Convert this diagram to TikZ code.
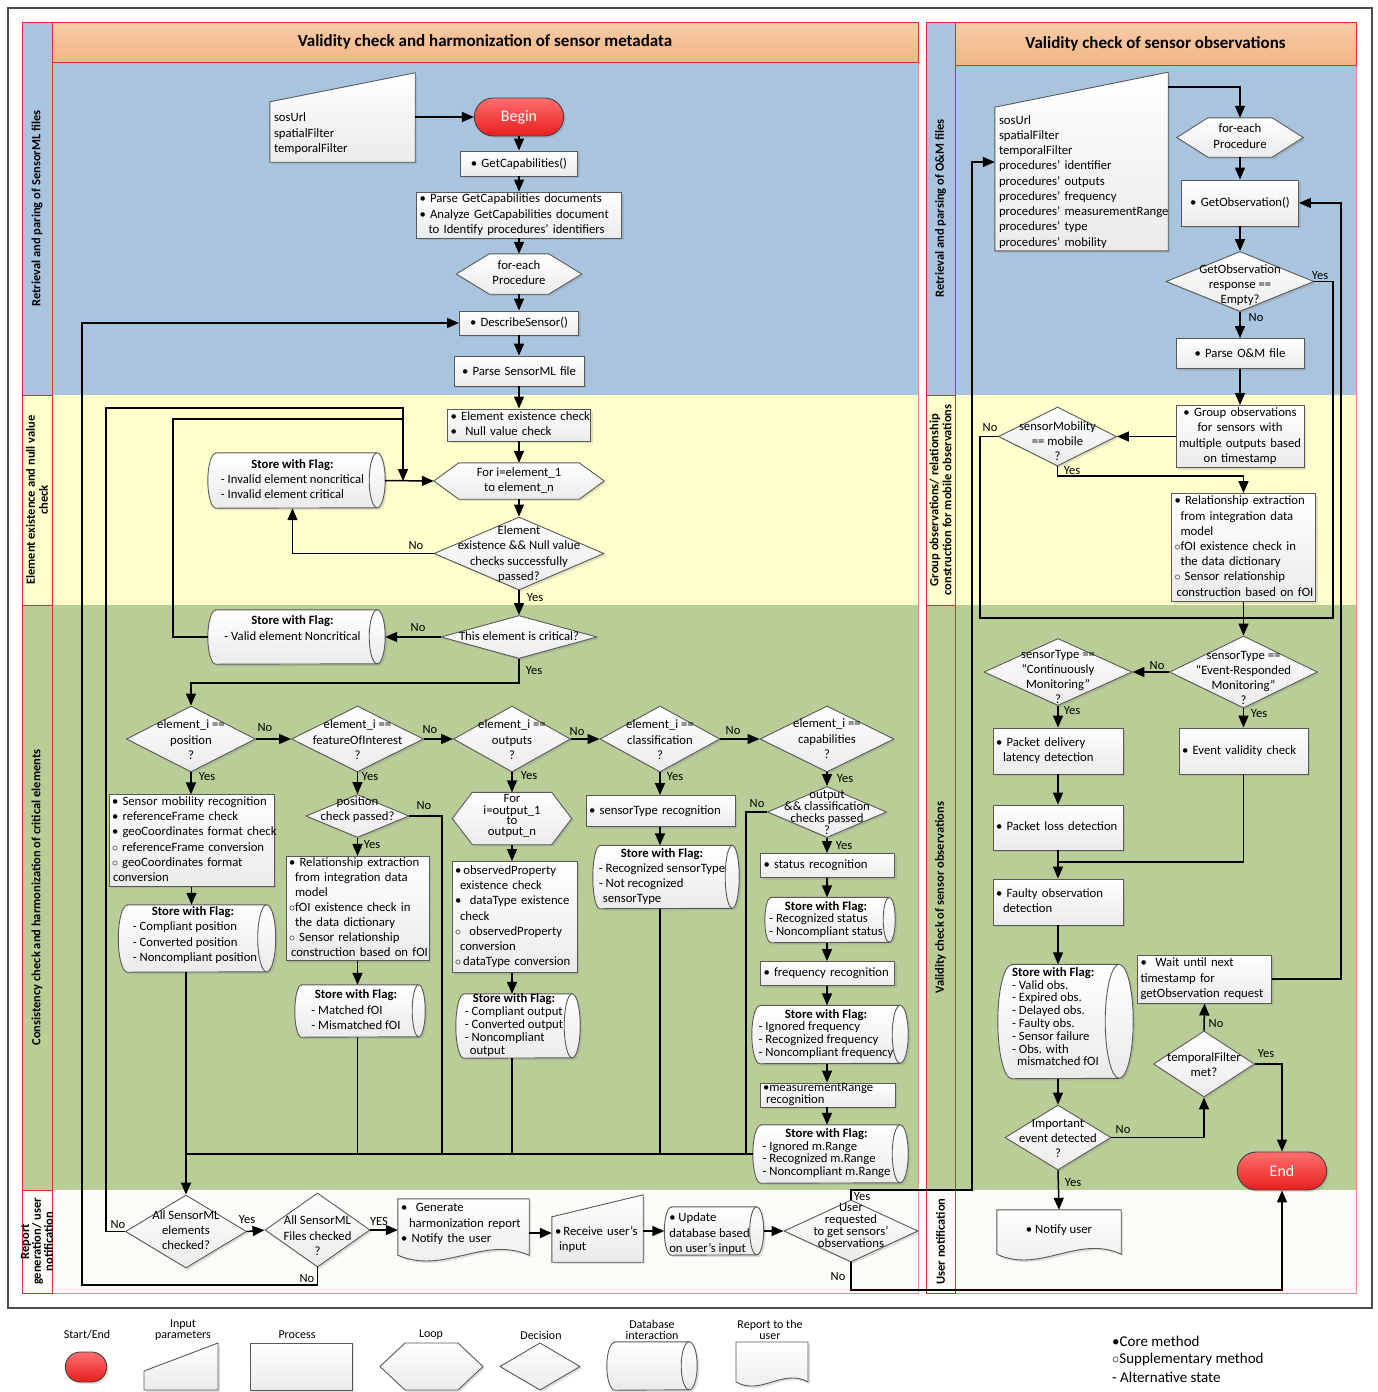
\documentclass[tikz,border=0pt]{standalone}
\usepackage{fontspec}
\setmainfont{Carlito}
\usetikzlibrary{arrows.meta,calc,shapes.geometric,shapes.misc,shadows}

\pgfdeclarelayer{bg}
\pgfsetlayers{bg,main}

\definecolor{laneblue}{RGB}{168,196,222}
\definecolor{laneyellow}{RGB}{255,255,204}
\definecolor{lanegreen}{RGB}{185,205,150}
\definecolor{lanewhite}{RGB}{253,251,247}
\definecolor{headtop}{RGB}{247,204,168}
\definecolor{headbot}{RGB}{241,181,132}
\definecolor{poolred}{RGB}{218,45,45}
\definecolor{termtop}{RGB}{255,110,110}
\definecolor{termbot}{RGB}{232,30,30}

% rows that never break
\newcommand{\rows}[1]{\begin{tabular}{@{}l@{}}#1\end{tabular}}
\newcommand{\crows}[1]{\begin{tabular}{@{}c@{}}#1\end{tabular}}
% text that does not size its shape
\newcommand{\ztext}[3][0pt]{\raisebox{\dimexpr#1-3pt\relax}[0pt][0pt]{\makebox[0pt]{\begin{tabular}{#2}#3\end{tabular}}}}
\newcommand{\dtext}[2][0pt]{\ztext[#1]{@{}c@{}}{#2}}
\newcommand{\flagtext}[2][0pt]{\ztext[#1]{@{}l@{\hspace{8pt}}}{\multicolumn{1}{@{}c@{\hspace{8pt}}}{\textbf{Store with Flag:}}\\#2}}
% outlines round plain nodes
\newcommand{\hexpath}[2]{\path[shapeline] ([xshift=#2]#1.north west) -- ([xshift=-#2]#1.north east) -- (#1.east) -- ([xshift=-#2]#1.south east) -- ([xshift=#2]#1.south west) -- (#1.west) -- cycle;}
\newcommand{\inpath}[3]{\path[shapeline] (#1.south west) -- ([yshift=#2]#1.north west) -- ([yshift=#3]#1.north east) -- (#1.south east) -- cycle;}
\newcommand{\docpath}[4]{\path[shapeline] (#1.north west) -- (#1.north east) -- ([yshift=#2]#1.south east) .. controls ([xshift=-#3,yshift=#2+#4]#1.south east) and ([xshift=#3,yshift=#2-#4]#1.south west) .. ([yshift=#2]#1.south west) -- cycle;}
\newcommand{\cylpath}[3]{\path[shapeline] ([xshift=#2]#1.north west) -- ([xshift=-#2]#1.north east) arc[start angle=90, end angle=-90, x radius=#2, y radius=#3] -- ([xshift=#2]#1.south west) arc[start angle=270, end angle=90, x radius=#2, y radius=#3] -- cycle;
  \draw[draw=black!65, line width=.9pt] ([xshift=-#2]#1.north east) arc[start angle=90, end angle=270, x radius=#2, y radius=#3];}

\begin{document}
\begin{tikzpicture}[x=1pt, y=-1pt, >={Triangle[length=12pt,width=10pt]},
  font=\fontsize{12.7}{15.2}\selectfont,
  softshadow/.style={drop shadow={opacity=.25, shadow xshift=2pt, shadow yshift=-2pt}},
  flow/.style={->, line width=1.5pt},
  wire/.style={line width=1.5pt},
  proc/.style={rectangle, draw=black!65, line width=.9pt, top color=white, bottom color=black!8, inner xsep=3pt, inner ysep=0pt, align=left, softshadow},
  dec/.style={diamond, draw=black!65, line width=.9pt, top color=white, bottom color=black!8, inner sep=0pt, softshadow},
  store/.style 2 args={rectangle, inner sep=0pt, minimum width=#1, minimum height=#2},
  term/.style={rounded rectangle, draw=black!75, line width=.9pt, top color=termtop, bottom color=termbot, text=white, font=\fontsize{16}{18}\selectfont, minimum width=96pt, minimum height=38pt, softshadow},
  holder/.style={rectangle, inner sep=0pt, align=left},
  shapeline/.style={draw=black!65, line width=.9pt, top color=white, bottom color=black!8, softshadow},
  header/.style={rectangle, draw=poolred, line width=.9pt, top color=headtop, bottom color=headbot, font=\bfseries\fontsize{17}{19}\selectfont},
  lanelbl/.style={rotate=90, align=center, font=\bfseries\fontsize{12.5}{13}\selectfont},
  lbl/.style={inner sep=0pt, font=\fontsize{12.5}{14}\selectfont},
  legtxt/.style={inner sep=0pt, align=center, font=\fontsize{12}{11}\selectfont},
  legkey/.style={inner sep=0pt, anchor=west, font=\fontsize{15}{17}\selectfont}]
\useasboundingbox (0,0) rectangle (1378,1392);

% pools and lanes
\begin{pgfonlayer}{bg}
  \draw[line width=2.5pt, black!70] (8,8) rectangle (1372,1308);
  \fill[laneblue] (22,22) rectangle (918,395);
  \fill[laneyellow] (22,395) rectangle (918,605);
  \fill[lanegreen] (22,605) rectangle (918,1190);
  \fill[lanewhite] (22,1190) rectangle (918,1293);
  \fill[laneblue] (926,22) rectangle (1356,395);
  \fill[laneyellow] (926,395) rectangle (1356,605);
  \fill[lanegreen] (926,605) rectangle (1356,1190);
  \fill[lanewhite] (926,1190) rectangle (1356,1293);
  \draw[poolred!55, line width=.7pt] (22,22) rectangle (918,1293) (926,22) rectangle (1356,1293);
  \draw[poolred, line width=.9pt] (22,22) rectangle (52,395) (22,395) rectangle (52,605) (22,605) rectangle (52,1190) (22,1190) rectangle (52,1293);
  \draw[poolred, line width=.9pt] (926,22) rectangle (955,395) (926,395) rectangle (955,605) (926,605) rectangle (955,1190) (926,1190) rectangle (955,1293);
\end{pgfonlayer}
\node (head1) at (485,42) [header, minimum width=866pt, minimum height=40pt] {Validity check and harmonization of sensor metadata};
\node (head2) at (1155.5,43.5) [header, minimum width=401pt, minimum height=43pt] {Validity check of sensor observations};
\node (lane1) at (37,208.5) [lanelbl] {Retrieval and paring of SensorML files};
\node (lane2) at (37,500) [lanelbl] {Element existence and null value\\check};
\node (lane3) at (37,897.5) [lanelbl] {Consistency check and harmonization of critical elements};
\node (lane4) at (37,1241.5) [lanelbl, font=\bfseries\fontsize{12.5}{10}\selectfont] {Report\\generation/ user\\notification};
\node (lane5) at (940.5,208.5) [lanelbl] {Retrieval and parsing of O\&M files};
\node (lane6) at (940.5,500) [lanelbl] {Group observations/ relationship\\construction for mobile observations};
\node (lane7) at (940.5,897.5) [lanelbl] {Validity check of sensor observations};
\node (lane8) at (940.5,1241.5) [lanelbl] {User notification};

% sensor metadata: retrieval
\node (in1) at (342.5,134) [holder, inner xsep=4pt, text width=137pt, minimum height=56pt] {\rows{sosUrl\\spatialFilter\\temporalFilter}};
\node (begin) at (519,117) [term] {Begin};
\node (getcap) at (519,163.5) [proc, text width=111pt, minimum height=25pt, align=center] {\textbullet\ GetCapabilities()};
\node (parse) at (519,215) [proc, text width=199pt, minimum height=46pt] {\rows{\textbullet\ Parse GetCapabilities documents\\\textbullet\ Analyze GetCapabilities document\\\hspace*{9pt}to Identify procedures’ identifiers}};
\node (each1) at (519,274) [holder, minimum width=125pt, minimum height=40pt] {\dtext{for-each\\Procedure}};
\node (descr) at (519,323) [proc, text width=113pt, minimum height=24pt, align=center] {\textbullet\ DescribeSensor()};
\node (psml) at (519,371) [proc, text width=124pt, minimum height=30pt, align=center] {\textbullet\ Parse SensorML file};

% existence and null value
\node (exist) at (519,425) [proc, text width=137pt, minimum height=32pt] {\rows{\textbullet\ Element existence check\\\textbullet\ \ Null value check}};
\node (forel) at (519,481) [holder, minimum width=170pt, minimum height=36pt] {\dtext{For i=element\_1\\to element\_n}};
\node (exdec) at (519,553.5) [dec, minimum width=170pt, minimum height=73pt] {\dtext[-1pt]{Element\\existence \&\& Null value\\checks successfully\\passed?}};
\node (flag1) at (296.5,480.5) [store={177pt}{55pt}] {\flagtext{- Invalid element noncritical\\- Invalid element critical}};
\node (crit) at (519,637) [dec, minimum width=156pt, minimum height=43pt] {\dtext{This element is critical?}};
\node (flag2) at (296.5,637) [store={177pt}{54pt}] {\flagtext{- Valid element Noncritical\\\mbox{}}};

% critical elements
\node (dpos) at (191,739) [dec, minimum width=129pt, minimum height=66pt] {\dtext[-2pt]{element\_i ==\\position\\?}};
\node (dfoi) at (357.5,739) [dec, minimum width=132pt, minimum height=66pt] {\dtext[-2pt]{element\_i ==\\featureOfInterest\\?}};
\node (dout) at (512,739) [dec, minimum width=117pt, minimum height=66pt] {\dtext[-2pt]{element\_i ==\\outputs\\?}};
\node (dcls) at (660,739) [dec, minimum width=120pt, minimum height=66pt] {\dtext[-2pt]{element\_i ==\\classification\\?}};
\node (dcap) at (827,739) [dec, minimum width=134pt, minimum height=66pt] {\dtext[-1pt]{element\_i ==\\capabilities\\?}};

\node (pproc) at (191.5,840.5) [proc, text width=159pt, minimum height=91pt] {\rows{\textbullet\ Sensor mobility recognition\\\textbullet\ referenceFrame check\\\textbullet\ geoCoordinates format check\\$\circ$\ referenceFrame conversion\\$\circ$\ geoCoordinates format\\\hspace*{1pt}conversion}};
\node (pstore) at (197,938.5) [store={157pt}{67pt}] {\flagtext[3pt]{\hspace*{4pt}- Compliant position\\\hspace*{4pt}- Converted position\\\hspace*{4pt}- Noncompliant position}};

\node (fdec) at (357.5,816) [dec, minimum width=103pt, minimum height=43pt] {\dtext[6pt]{position\\check passed?}};
\node (fproc) at (357.5,908.5) [proc, text width=137pt, minimum height=103pt, font=\fontsize{12.7}{14.9}\selectfont] {\rows{\textbullet\ Relationship extraction\\\hspace*{6pt}from integration data\\\hspace*{6pt}model\\$\circ$fOI existence check in\\\hspace*{6pt}the data dictionary\\$\circ$\ Sensor relationship\\\hspace*{2pt}construction based on fOI}};
\node (fstore) at (360,1011) [store={130pt}{52pt}] {\flagtext{- Matched fOI\\- Mismatched fOI}};

\node (oloop) at (512,818.5) [holder, minimum width=119pt, minimum height=52pt, font=\fontsize{12.7}{9.5}\selectfont] {\dtext[2pt]{For\\i=output\_1\\to\\output\_n}};
\node (oproc) at (514.5,917) [proc, text width=119pt, minimum height=111pt] {\rows{\textbullet\,observedProperty\\\hspace*{5pt}existence check\\\textbullet\ \ dataType existence\\\hspace*{5pt}check\\$\circ$\ \ observedProperty\\\hspace*{5pt}conversion\\$\circ$\,dataType conversion}};
\node (ostore) at (518,1026) [store={124pt}{64pt}, font=\fontsize{12.7}{12.8}\selectfont] {\flagtext{- Compliant output\\- Converted output\\- Noncompliant\\\hspace*{5pt}output}};

\node (cproc) at (660.5,811) [proc, text width=143pt, minimum height=31pt] {\rows{\textbullet\ sensorType recognition}};
\node (cstore) at (666,877) [store={146pt}{63pt}] {\flagtext{- Recognized sensorType\\- Not recognized\\\hspace*{4pt}sensorType}};

\node (capdec) at (827,812) [dec, minimum width=119pt, minimum height=51pt, font=\fontsize{12.7}{11.3}\selectfont] {\dtext[-2pt]{output\\\&\& classification\\checks passed\\?}};
\node (stproc) at (827.5,865.5) [proc, text width=128pt, minimum height=24pt] {\rows{\textbullet\ status recognition}};
\node (ststore) at (830,920) [store={130pt}{45pt}, font=\fontsize{12.7}{12.5}\selectfont] {\flagtext{- Recognized status\\- Noncompliant status}};
\node (frproc) at (827.5,973.5) [proc, text width=128pt, minimum height=24pt] {\rows{\textbullet\ frequency recognition}};
\node (frstore) at (830,1034.5) [store={156pt}{58pt}, font=\fontsize{12.7}{12.7}\selectfont] {\flagtext{- Ignored frequency\\- Recognized frequency\\- Noncompliant frequency}};
\node (mrproc) at (827.5,1095) [proc, text width=129pt, minimum height=24pt, font=\fontsize{12.7}{10.5}\selectfont] {\rows{\textbullet measurementRange\\\hspace*{3pt}recognition}};
\node (mrstore) at (830.5,1154) [store={155pt}{58pt}, font=\fontsize{12.7}{12.7}\selectfont] {\flagtext{- Ignored m.Range\\- Recognized m.Range\\- Noncompliant m.Range}};

% report and user notification
\node (allel) at (186,1231.5) [dec, minimum width=121pt, minimum height=73pt] {\dtext{All SensorML\\elements\\checked?}};
\node (allfi) at (317.5,1230) [dec, minimum width=105pt, minimum height=74pt] {\dtext[-7pt]{All SensorML\\Files checked\\?}};
\node (rep) at (463.5,1224) [holder, inner xsep=3pt, text width=125pt, minimum height=50pt] {\rows{\textbullet\ \ Generate\\\hspace*{8pt}harmonization report\\\textbullet\ Notify the user}};
\node (recv) at (597.5,1240) [holder, inner xsep=3pt, text width=85pt, minimum height=44pt] {\rows{\textbullet\,Receive user’s\\\hspace*{4pt}input}};
\node (upd) at (714,1231) [store={99pt}{48pt}] {\ztext[-3pt]{@{}l@{\hspace{9pt}}}{\textbullet\ Update\\database based\\on user’s input}};
\node (ureq) at (851,1231) [dec, minimum width=134pt, minimum height=62pt, font=\fontsize{12.7}{11.3}\selectfont] {\dtext[4pt]{User\\requested\\to get sensors’\\observations}};

% sensor observations
\node (in2) at (1081.5,182) [holder, inner xsep=4pt, text width=165pt, minimum height=134pt, font=\fontsize{12.7}{15.25}\selectfont] {\rows{sosUrl\\spatialFilter\\temporalFilter\\procedures’ identifier\\procedures’ outputs\\procedures’ frequency\\procedures’ measurementRange\\procedures’ type\\procedures’ mobility}};
\node (each2) at (1240,137.5) [holder, minimum width=126pt, minimum height=39pt] {\dtext{for-each\\Procedure}};
\node (gobs) at (1240,203) [proc, text width=111pt, minimum height=46pt, align=center] {\textbullet\ GetObservation()};
\node (odec) at (1240,281.5) [dec, minimum width=148pt, minimum height=60pt] {\dtext[-4pt]{GetObservation\\response ==\\Empty?}};
\node (pom) at (1240,353.5) [proc, text width=122pt, minimum height=30pt, align=center] {\textbullet\ Parse O\&M file};
\node (grp) at (1240,436.5) [proc, text width=122pt, minimum height=62pt, align=center] {\crows{\textbullet\ Group observations\\for sensors with\\multiple outputs based\\on timestamp}};
\node (mdec) at (1057.5,436.5) [dec, minimum width=118pt, minimum height=59pt] {\dtext[-6pt]{sensorMobility\\== mobile\\?}};
\node (rel) at (1243.5,547.5) [proc, text width=138pt, minimum height=108pt] {\rows{\textbullet\ Relationship extraction\\\hspace*{6pt}from integration data\\\hspace*{6pt}model\\$\circ$fOI existence check in\\\hspace*{6pt}the data dictionary\\$\circ$\ Sensor relationship\\\hspace*{2pt}construction based on fOI}};
\node (ertype) at (1243.5,672) [dec, minimum width=148pt, minimum height=72pt] {\dtext[-7pt]{sensorType ==\\“Event-Responded\\Monitoring”\\?}};
\node (cmtype) at (1058,672) [dec, minimum width=148pt, minimum height=67pt] {\dtext[-6pt]{sensorType ==\\“Continuously\\Monitoring”\\?}};
\node (lat) at (1058,751) [proc, text width=124pt, minimum height=46pt] {\rows{\textbullet\ Packet delivery\\\hspace*{7pt}latency detection}};
\node (evc) at (1243.5,751) [proc, text width=123pt, minimum height=46pt] {\rows{\textbullet\ Event validity check}};
\node (loss) at (1058,827.5) [proc, text width=124pt, minimum height=45pt] {\rows{\textbullet\ Packet loss detection}};
\node (fault) at (1058,902) [proc, text width=124pt, minimum height=46pt] {\rows{\textbullet\ Faulty observation\\\hspace*{7pt}detection}};
\node (ostore2) at (1065.5,1021.5) [store={135pt}{114pt}, font=\fontsize{12.7}{12.8}\selectfont] {\ztext[3pt]{@{}l@{\hspace{20pt}}}{\textbf{Store with Flag:}\\- Valid obs.\\- Expired obs.\\- Delayed obs.\\- Faulty obs.\\- Sensor failure\\- Obs. with\\\hspace*{5pt}mismatched fOI}};
\node (imp) at (1058,1137.5) [dec, minimum width=106pt, minimum height=65pt] {\dtext[-2pt]{Important\\event detected\\?}};
\node (tf) at (1204,1064) [dec, minimum width=101pt, minimum height=66pt] {\dtext[-2pt]{temporalFilter\\met?}};
\node (wait) at (1204.5,979) [proc, text width=128pt, minimum height=48pt] {\rows{\textbullet\ \ Wait until next\\timestamp for\\getObservation request}};
\node (endn) at (1282,1171) [term] {End};
\node (notify) at (1059,1230) [holder, minimum width=124pt, minimum height=40pt, align=center] {\textbullet\ Notify user};

% legend
\node (lgse) at (87,1335) [legtxt] {Start/End};
\node (lgin) at (183,1330) [legtxt] {Input\\parameters};
\node (lgpr) at (297,1335) [legtxt] {Process};
\node (lglp) at (431,1335) [legtxt] {Loop};
\node (lgdc) at (541,1335) [legtxt] {Decision};
\node (lgdb) at (652,1330) [legtxt] {Database\\interaction};
\node (lgrp) at (770,1330) [legtxt] {Report to the\\user};
\node (lgterm) at (86,1367) [term, minimum width=48pt, minimum height=30pt] {};
\node (lgcyl) at (652,1366) [store={90pt}{48pt}] {};
\node (lgcore) at (1112,1341) [legkey] {\textbullet Core method};
\node (lgsupp) at (1112,1359) [legkey] {$\circ$Supplementary method};
\node (lgalt) at (1112,1377) [legkey] {- Alternative state};

% outlines of input, loop, store and report shapes
\begin{pgfonlayer}{bg}
  \inpath{in1}{4pt}{33pt}
  \inpath{in2}{6pt}{41pt}
  \inpath{recv}{1pt}{23pt}
  \hexpath{each1}{33pt}
  \hexpath{forel}{25pt}
  \hexpath{oloop}{20pt}
  \hexpath{each2}{31pt}
  \docpath{rep}{-6pt}{46pt}{20pt}
  \docpath{notify}{-4pt}{43pt}{20pt}
  \cylpath{flag1}{8pt}{27.5pt}
  \cylpath{flag2}{8pt}{27pt}
  \cylpath{pstore}{9pt}{33.5pt}
  \cylpath{fstore}{6.5pt}{26pt}
  \cylpath{ostore}{8pt}{32pt}
  \cylpath{cstore}{7pt}{31.5pt}
  \cylpath{ststore}{6pt}{22.5pt}
  \cylpath{frstore}{8pt}{29pt}
  \cylpath{mrstore}{8pt}{29pt}
  \cylpath{upd}{7pt}{24pt}
  \cylpath{ostore2}{14pt}{57pt}
  \cylpath{lgcyl}{8pt}{24pt}
  \path[shapeline] (144,1390) -- (144,1371) -- (218,1343) -- (218,1390) -- cycle;
  \path[shapeline] (250,1343) rectangle (352,1390);
  \path[shapeline] (405,1343) -- (458,1343) -- (483,1366.5) -- (458,1390) -- (405,1390) -- (380,1366.5) -- cycle;
  \path[shapeline] (540,1343) -- (580,1366.5) -- (540,1390) -- (500,1366.5) -- cycle;
  \path[shapeline] (736,1342) -- (808,1342) -- (808,1382) .. controls (783,1368) and (761,1396) .. (736,1382) -- cycle;
\end{pgfonlayer}

% turning points
\coordinate (lp1) at (173,419);
\coordinate (lp2) at (403,419);
\coordinate (lp3) at (106,408);
\coordinate (lp4) at (403,408);
\coordinate (lp5) at (82,1285);
\coordinate (lp6) at (442,1153);
\coordinate (lp7) at (746,1153);
\coordinate (lp8) at (972,1190);
\coordinate (lp9) at (1100,1290);
\coordinate (lp10) at (1150,476);
\coordinate (lp11) at (980,618);
\coordinate (lp12) at (1243.5,618);
\coordinate (lp13) at (1333,618);
\coordinate (lp14) at (1058,862);
\coordinate (lp15) at (1341,600);
\coordinate (lp16) at (300,683);

% metadata flow
\draw[flow] (in1.east |- begin.west) -- (begin.west);
\draw[flow] (begin.south) -- (getcap.north);
\draw[flow] (getcap.south) -- (parse.north);
\draw[flow] (parse.south) -- (each1.north);
\draw[flow] (each1.south) -- (descr.north);
\draw[flow] (descr.south) -- (psml.north);
\draw[flow] (psml.south) -- (exist.north);
\draw[flow] (exist.south) -- (forel.north);
\draw[flow] (forel.south) -- (exdec.north);
\draw[flow] (exdec.south) -- (crit.north);
\draw[flow] (exdec.west) -| ([xshift=-4pt]flag1.south);
\draw[flow] (flag1.east) -- (forel.west);
\draw[flow] (crit.west) -- (flag2.east);
\draw[wire] (flag2.west) -| (lp1) -- (lp2);
\draw[flow] (allel.west) -| (lp3) -- (lp4) -- (lp4 |- forel.west);
\draw[flow] (crit.south) |- (lp16) -| (dpos.north);
\draw[flow] (dpos.east) -- (dfoi.west);
\draw[flow] (dfoi.east) -- (dout.west);
\draw[flow] (dout.east) -- (dcls.west);
\draw[flow] (dcls.east) -- (dcap.west);

\draw[flow] (dpos.south) -- (dpos.south |- pproc.north);
\draw[flow] (pproc.south) -- (pproc.south |- pstore.north);
\draw[flow] (allel.north |- pstore.south) -- (allel.north);
\draw[wire] (mrstore.west) -- (allel.north |- mrstore.west);

\draw[flow] (dfoi.south) -- (fdec.north);
\draw[flow] (fdec.south) -- (fproc.north);
\draw[flow] (fproc.south) -- (fproc.south |- fstore.north);
\draw[wire] (fproc.south |- fstore.south) -- (fproc.south |- mrstore.west);
\draw[wire] (fdec.east) -| (lp6);

\draw[flow] (dout.south) -- (oloop.north);
\draw[flow] (oloop.south) -- (oloop.south |- oproc.north);
\draw[flow] (oloop.south |- oproc.south) -- (oloop.south |- ostore.north);
\draw[wire] (oloop.south |- ostore.south) -- (oloop.south |- mrstore.west);

\draw[flow] (dcls.south) -- (dcls.south |- cproc.north);
\draw[flow] (dcls.south |- cproc.south) -- (dcls.south |- cstore.north);
\draw[wire] (dcls.south |- cstore.south) -- (dcls.south |- mrstore.west);

\draw[flow] (dcap.south) -- (capdec.north);
\draw[flow] (capdec.south) -- (capdec.south |- stproc.north);
\draw[flow] (capdec.south |- stproc.south) -- (capdec.south |- ststore.north);
\draw[flow] (capdec.south |- ststore.south) -- (capdec.south |- frproc.north);
\draw[flow] (capdec.south |- frproc.south) -- (capdec.south |- frstore.north);
\draw[flow] (capdec.south |- frstore.south) -- (capdec.south |- mrproc.north);
\draw[flow] (capdec.south |- mrproc.south) -- (capdec.south |- mrstore.north);
\draw[wire] (capdec.west) -| (lp7);

\draw[flow] (allel.east) -- (allfi.west);
\draw[flow] (allfi.east) -- (allfi.east -| rep.west);
\draw[flow] (allfi.south) |- (lp5) |- (descr.west);
\draw[flow] ([yshift=-9pt]rep.east) -- ([yshift=-9pt]rep.east -| recv.west);
\draw[flow] (upd.west -| recv.east) -- (upd.west);
\draw[flow] (upd.east) -- (ureq.west);
\draw[flow] (ureq.north) |- (lp8) |- ([yshift=20pt]in2.west);
\draw[flow] (ureq.south) |- (lp9) -| (endn.south);

% observation flow
\draw[flow] ([yshift=26pt]in2.north east) -| (each2.north);
\draw[flow] (each2.south) -- (gobs.north);
\draw[flow] (gobs.south) -- (odec.north);
\draw[flow] (odec.south) -- (pom.north);
\draw[flow] (pom.south) -- (grp.north);
\draw[flow] (grp.west) -- (mdec.east);
\draw[flow] (mdec.south) |- (lp10) -| (rel.north);
\draw[wire] (mdec.west) -| (lp11) -- (lp12);
\draw[wire] (odec.east) -| (lp13) -- (lp12);
\draw[flow] (rel.south) -- (ertype.north);
\draw[flow] (ertype.west) -- (cmtype.east);
\draw[flow] (cmtype.south) -- (lat.north);
\draw[flow] (ertype.south) -- (evc.north);
\draw[flow] (lat.south) -- (loss.north);
\draw[flow] (loss.south) -- (fault.north);
\draw[wire] (evc.south) |- (lp14);
\draw[flow] (fault.south) -- (fault.south |- ostore2.north);
\draw[flow] (fault.south |- ostore2.south) -- (imp.north);
\draw[flow] (imp.east) -| (tf.south);
\draw[flow] (imp.south) -- (notify.north);
\draw[flow] (tf.north) -- (wait.south);
\draw[flow] (tf.east) -| (endn.north);
\draw[flow] (wait.east) -| (lp15) |- (gobs.east);

% yes / no
\node (t1) at (416,546) [lbl] {No};
\node (t2) at (535,598) [lbl] {Yes};
\node (t3) at (418,628) [lbl] {No};
\node (t4) at (534,671) [lbl] {Yes};
\node (t5) at (265,728) [lbl] {No};
\node (t6) at (430,730) [lbl] {No};
\node (t7) at (577,732) [lbl] {No};
\node (t8) at (733,731) [lbl] {No};
\node (t9) at (207,777) [lbl] {Yes};
\node (t10) at (370,777) [lbl] {Yes};
\node (t11) at (529,776) [lbl] {Yes};
\node (t12) at (675,777) [lbl] {Yes};
\node (t13) at (845,779) [lbl] {Yes};
\node (t14) at (372,845) [lbl] {Yes};
\node (t15) at (424,806) [lbl] {No};
\node (t16) at (757,804) [lbl] {No};
\node (t17) at (844,846) [lbl] {Yes};
\node (t18) at (118,1225) [lbl] {No};
\node (t19) at (247,1220) [lbl] {Yes};
\node (t20) at (379,1221) [lbl] {YES};
\node (t21) at (307,1279) [lbl] {No};
\node (t22) at (862,1197) [lbl] {Yes};
\node (t23) at (838,1277) [lbl] {No};
\node (t24) at (1320,276) [lbl] {Yes};
\node (t25) at (1256,318) [lbl] {No};
\node (t26) at (990,428) [lbl] {No};
\node (t27) at (1072,471) [lbl] {Yes};
\node (t28) at (1157,666) [lbl] {No};
\node (t29) at (1072,711) [lbl] {Yes};
\node (t30) at (1259,714) [lbl] {Yes};
\node (t31) at (1123,1130) [lbl] {No};
\node (t32) at (1073,1183) [lbl] {Yes};
\node (t33) at (1216,1024) [lbl] {No};
\node (t34) at (1266,1054) [lbl] {Yes};
\end{tikzpicture}
\end{document}
